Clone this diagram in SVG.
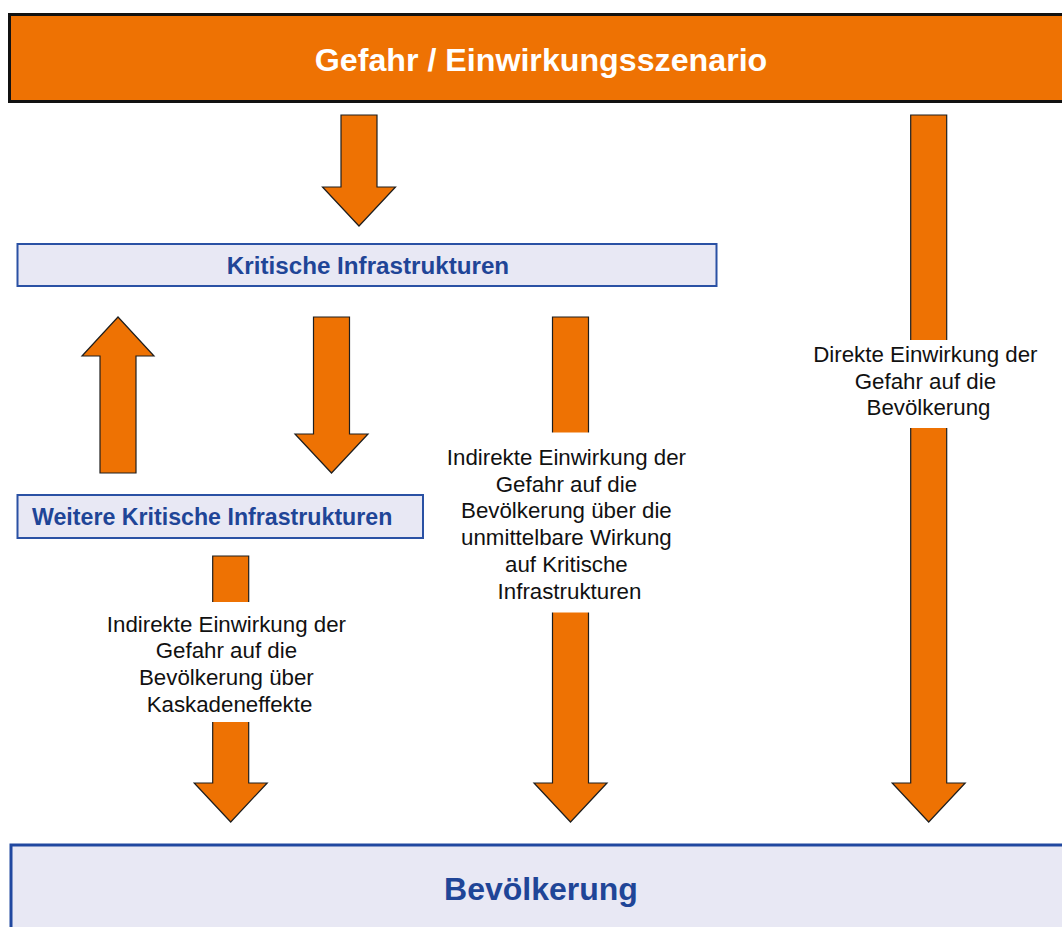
<svg xmlns="http://www.w3.org/2000/svg" width="1062" height="927" viewBox="0 0 1062 927">
  <style>
    .arrow { fill: #ee7203; stroke: #1e1e1e; stroke-width: 1.2; stroke-linejoin: miter; }
    .box { fill: #e8e8f4; stroke: #2a51a4; stroke-width: 2; }
    .boxtext { font-family: "Liberation Sans", Arial, sans-serif; font-weight: bold; fill: #1f4597; }
    .label { font-family: "Liberation Sans", Arial, sans-serif; font-size: 22.3px; fill: #111; text-anchor: middle; }
    .mask { fill: #ffffff; stroke: none; }
  </style>
  <rect x="0" y="0" width="1062" height="927" fill="#ffffff"/>

  <!-- hazard / scenario bar -->
  <g id="gefahr">
    <rect x="9.5" y="14.5" width="1060" height="87" fill="#ee7203" stroke="#111" stroke-width="3"/>
    <text x="541" y="71" text-anchor="middle" font-family="Liberation Sans, Arial, sans-serif" font-weight="bold" font-size="32.2" fill="#ffffff">Gefahr / Einwirkungsszenario</text>
  </g>

  <!-- connectors: block arrows -->
  <g id="connectors">
    <!-- hazard to critical infrastructure -->
    <polygon class="arrow" points="341,115 377,115 377,187 395.5,187 359,226 322.5,187 341,187"/>
    <!-- further infrastructure back to critical infrastructure -->
    <polygon class="arrow" points="100,473 136,473 136,356 154,356 118,317 82,356 100,356"/>
    <!-- critical infrastructure to further infrastructure -->
    <polygon class="arrow" points="313.5,317 349.5,317 349.5,434 368,434 331.5,473 295,434 313.5,434"/>
    <!-- cascade effects to population -->
    <polygon class="arrow" points="212.7,556 248.7,556 248.7,783 267.2,783 230.7,822 194.2,783 212.7,783"/>
    <!-- direct effect of critical infrastructure on population -->
    <polygon class="arrow" points="552.5,317 588.5,317 588.5,783 607,783 570.5,822 534,783 552.5,783"/>
    <!-- direct effect of hazard on population -->
    <polygon class="arrow" points="910.7,115 946.7,115 946.7,783 965.2,783 928.7,822 892.2,783 910.7,783"/>

    <!-- arrow labels on white backing -->
    <rect class="mask" x="100" y="602" width="260" height="120"/>
    <text class="label">
      <tspan x="229.5" y="631.7">Indirekte Einwirkung der</tspan>
      <tspan x="229.5" y="658.4">Gefahr auf die</tspan>
      <tspan x="229.5" y="685.1">Bevölkerung über</tspan>
      <tspan x="229.5" y="711.8">Kaskadeneffekte</tspan>
    </text>

    <rect class="mask" x="440" y="432.5" width="260" height="180"/>
    <text class="label">
      <tspan x="569.5" y="465">Indirekte Einwirkung der</tspan>
      <tspan x="569.5" y="491.7">Gefahr auf die</tspan>
      <tspan x="569.5" y="518.4">Bevölkerung über die</tspan>
      <tspan x="569.5" y="545.1">unmittelbare Wirkung</tspan>
      <tspan x="569.5" y="571.8">auf Kritische</tspan>
      <tspan x="569.5" y="598.5">Infrastrukturen</tspan>
    </text>

    <rect class="mask" x="805" y="340" width="250" height="88"/>
    <text class="label">
      <tspan x="928.5" y="362">Direkte Einwirkung der</tspan>
      <tspan x="928.5" y="388.7">Gefahr auf die</tspan>
      <tspan x="928.5" y="415.4">Bevölkerung</tspan>
    </text>
  </g>

  <!-- critical infrastructure -->
  <g id="kritis">
    <rect class="box" x="17.5" y="244" width="699" height="42"/>
    <text class="boxtext" x="368" y="274" text-anchor="middle" font-size="24.2">Kritische Infrastrukturen</text>
  </g>

  <!-- further critical infrastructure -->
  <g id="weitere-kritis">
    <rect class="box" x="17.5" y="495" width="405.5" height="43"/>
    <text class="boxtext" x="32" y="525" font-size="23.2">Weitere Kritische Infrastrukturen</text>
  </g>

  <!-- population -->
  <g id="bevoelkerung">
    <rect x="11" y="845" width="1060" height="100" fill="#e8e8f4" stroke="#2148a0" stroke-width="3"/>
    <text class="boxtext" x="541" y="900" text-anchor="middle" font-size="32">Bevölkerung</text>
  </g>
</svg>
